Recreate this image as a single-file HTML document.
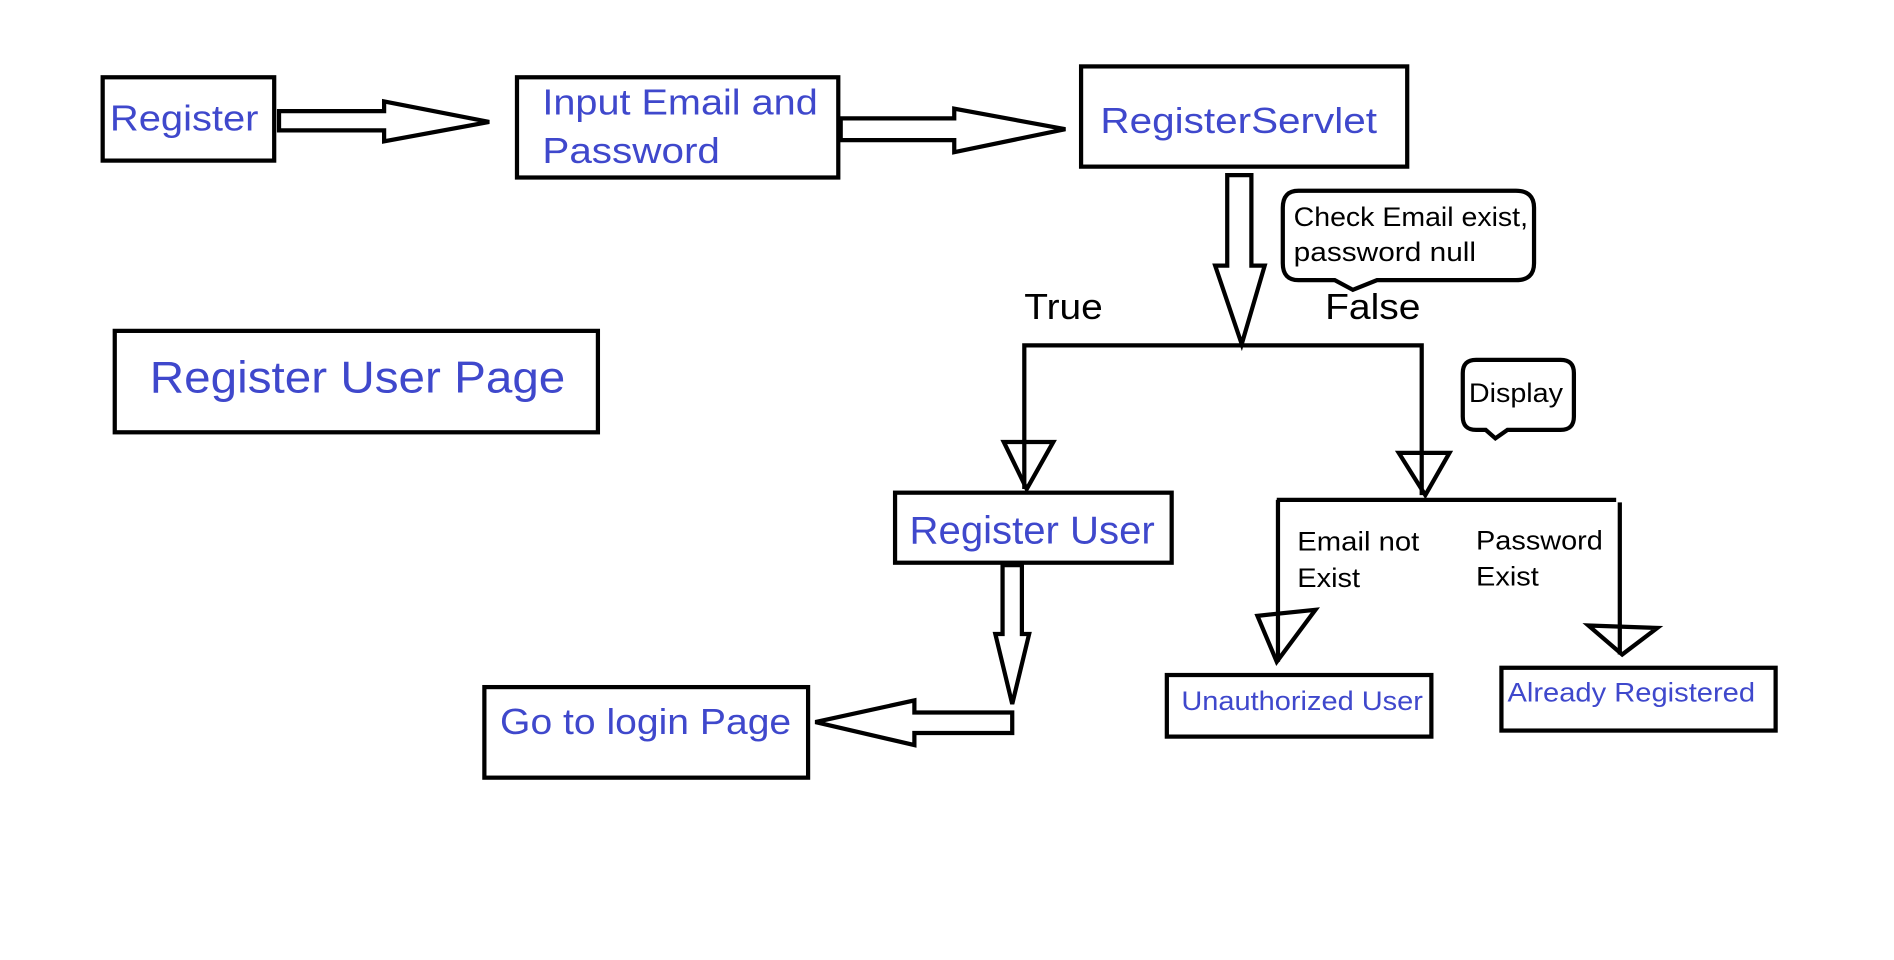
<!DOCTYPE html>
<html><head><meta charset="utf-8"><style>
html,body{margin:0;padding:0;background:#fff;width:1894px;height:960px;overflow:hidden}
svg{display:block}
text{font-family:"Liberation Sans",sans-serif}
.b{fill:#3f48cc}
.k{fill:#000}
</style></head><body>
<svg width="1894" height="960" viewBox="0 0 1568 795" preserveAspectRatio="none" xmlns="http://www.w3.org/2000/svg">
<rect width="1568" height="795" fill="#fff"/>
<g fill="none" stroke="#000" stroke-width="3.5" stroke-linejoin="miter">
<rect x="85" y="64" width="142" height="69"/>
<rect x="428" y="64" width="266" height="83"/>
<rect x="895" y="55" width="270" height="83"/>
<rect x="95" y="274" width="400" height="84"/>
<rect x="741" y="408" width="229" height="58"/>
<rect x="401" y="569" width="268" height="75"/>
<rect x="966" y="559" width="219" height="51"/>
<rect x="1243" y="553" width="227" height="52"/>
<polygon points="231,92 318,92 318,84 405,101 318,117 318,108 231,108"/>
<polygon points="696,98 790,98 790,90 882,107 790,126 790,116 696,116"/>
<polygon points="1016,145 1036,145 1036,220 1047,220 1028,285 1006,220 1016,220"/>
<polygon points="830,468 846,468 846,525 852,525 838,583 824,525 830,525"/>
<polygon points="838,590 838,607 757,607 757,617 675,598 757,580 757,590"/>
<polyline points="848,405 848,286 1177,286 1177,410"/>
<polygon points="831,366 872,366 850,405"/>
<polygon points="1158,375 1200,375 1180,410"/>
<line x1="1057" y1="414" x2="1338" y2="414"/>
<line x1="1058" y1="414" x2="1058" y2="548"/>
<line x1="1341" y1="416" x2="1341" y2="542"/>
<polygon points="1041,510 1089,505 1057,548"/>
<polygon points="1315,518 1372,520 1343,542"/>
<path d="M1075,158 H1255 Q1270,158 1270,172 V218 Q1270,232 1255,232 H1140 L1120,240 L1105,232 H1075 Q1062,232 1062,218 V172 Q1062,158 1075,158 Z"/>
<path d="M1222,298 H1292 Q1303,298 1303,309 V345 Q1303,356 1292,356 H1248 L1238,363 L1230,356 H1222 Q1211,356 1211,345 V309 Q1211,298 1222,298 Z"/>
</g>
<g lengthAdjust="spacingAndGlyphs">
<text class="b" x="91" y="108" font-size="30" textLength="123" lengthAdjust="spacingAndGlyphs">Register</text>
<text class="b" x="449" y="95" font-size="30" textLength="228" lengthAdjust="spacingAndGlyphs">Input Email and</text>
<text class="b" x="449" y="135" font-size="30" textLength="147" lengthAdjust="spacingAndGlyphs">Password</text>
<text class="b" x="911" y="110" font-size="30" textLength="229" lengthAdjust="spacingAndGlyphs">RegisterServlet</text>
<text class="b" x="124" y="325" font-size="37" textLength="344" lengthAdjust="spacingAndGlyphs">Register User Page</text>
<text class="b" x="753" y="450" font-size="32" textLength="203" lengthAdjust="spacingAndGlyphs">Register User</text>
<text class="b" x="414" y="608" font-size="30" textLength="241" lengthAdjust="spacingAndGlyphs">Go to login Page</text>
<text class="b" x="978" y="588" font-size="22" textLength="200" lengthAdjust="spacingAndGlyphs">Unauthorized User</text>
<text class="b" x="1248" y="581" font-size="22" textLength="205" lengthAdjust="spacingAndGlyphs">Already Registered</text>
<text class="k" x="1071" y="187" font-size="22" textLength="194" lengthAdjust="spacingAndGlyphs">Check Email exist,</text>
<text class="k" x="1071" y="216" font-size="22" textLength="151" lengthAdjust="spacingAndGlyphs">password null</text>
<text class="k" x="1216" y="333" font-size="22" textLength="78" lengthAdjust="spacingAndGlyphs">Display</text>
<text class="k" x="848" y="264" font-size="30" textLength="65" lengthAdjust="spacingAndGlyphs">True</text>
<text class="k" x="1097" y="264" font-size="30" textLength="79" lengthAdjust="spacingAndGlyphs">False</text>
<text class="k" x="1074" y="456" font-size="22" textLength="101" lengthAdjust="spacingAndGlyphs">Email not</text>
<text class="k" x="1074" y="486" font-size="22" textLength="52" lengthAdjust="spacingAndGlyphs">Exist</text>
<text class="k" x="1222" y="455" font-size="22" textLength="105" lengthAdjust="spacingAndGlyphs">Password</text>
<text class="k" x="1222" y="485" font-size="22" textLength="52" lengthAdjust="spacingAndGlyphs">Exist</text>
</g>
</svg>
</body></html>
